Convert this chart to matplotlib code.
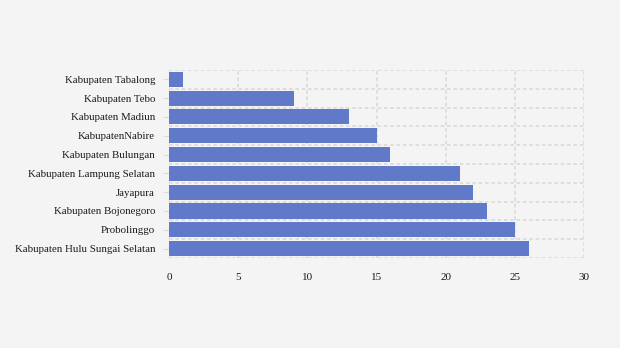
import matplotlib.pyplot as plt
import numpy as np

regions = [
    "Kabupaten Tabalong",
    "Kabupaten Tebo",
    "Kabupaten Madiun",
    "KabupatenNabire",
    "Kabupaten Bulungan",
    "Kabupaten Lampung Selatan",
    "Jayapura",
    "Kabupaten Bojonegoro",
    "Probolinggo",
    "Kabupaten Hulu Sungai Selatan",
]
values = [1, 9, 13, 15, 16, 21, 22, 23, 25, 26]
xticks = [0, 5, 10, 15, 20, 25, 30]


def main():
    plt.rcParams['font.family'] = ['Liberation Serif', 'DejaVu Serif']
    fig = plt.figure(figsize=(6.2, 3.48), dpi=100, facecolor='#f4f4f4')
    ax = fig.add_axes([0.2726, 0.2586, 0.6694, 0.5404])
    ax.set_facecolor('#f4f4f4')

    pos = np.arange(len(regions))
    ax.barh(pos, values, height=0.8, color='#6079c9', zorder=3)

    ax.set_ylim(len(regions) - 0.5, -0.5)
    ax.set_xlim(0, 30)
    ax.set_yticks(pos)
    ax.set_yticklabels(regions)
    ax.set_yticks(np.arange(len(regions) + 1) - 0.5, minor=True)
    ax.set_xticks(xticks)

    # dashed grid: vertical at ticks, horizontal between bars
    ax.grid(axis='x', which='major', color='#dcdcdc', linestyle=(0, (2, 1.5)),
            linewidth=1.3)
    ax.grid(axis='y', which='minor', color='#dcdcdc', linestyle=(0, (2, 1.5)),
            linewidth=1.3)
    ax.set_axisbelow(True)

    for s in ax.spines.values():
        s.set_visible(False)

    ax.tick_params(axis='y', which='major', length=4, color='#dcdcdc',
                   labelsize=7.8, pad=6, labelcolor='#1a1a1a')
    ax.tick_params(axis='y', which='minor', length=0)
    ax.tick_params(axis='x', length=0, labelsize=8, pad=11,
                   labelcolor='#1a1a1a')

    fig.savefig('out.png', dpi=100, facecolor=fig.get_facecolor())
    return 0


if __name__ == "__main__":
    main()
